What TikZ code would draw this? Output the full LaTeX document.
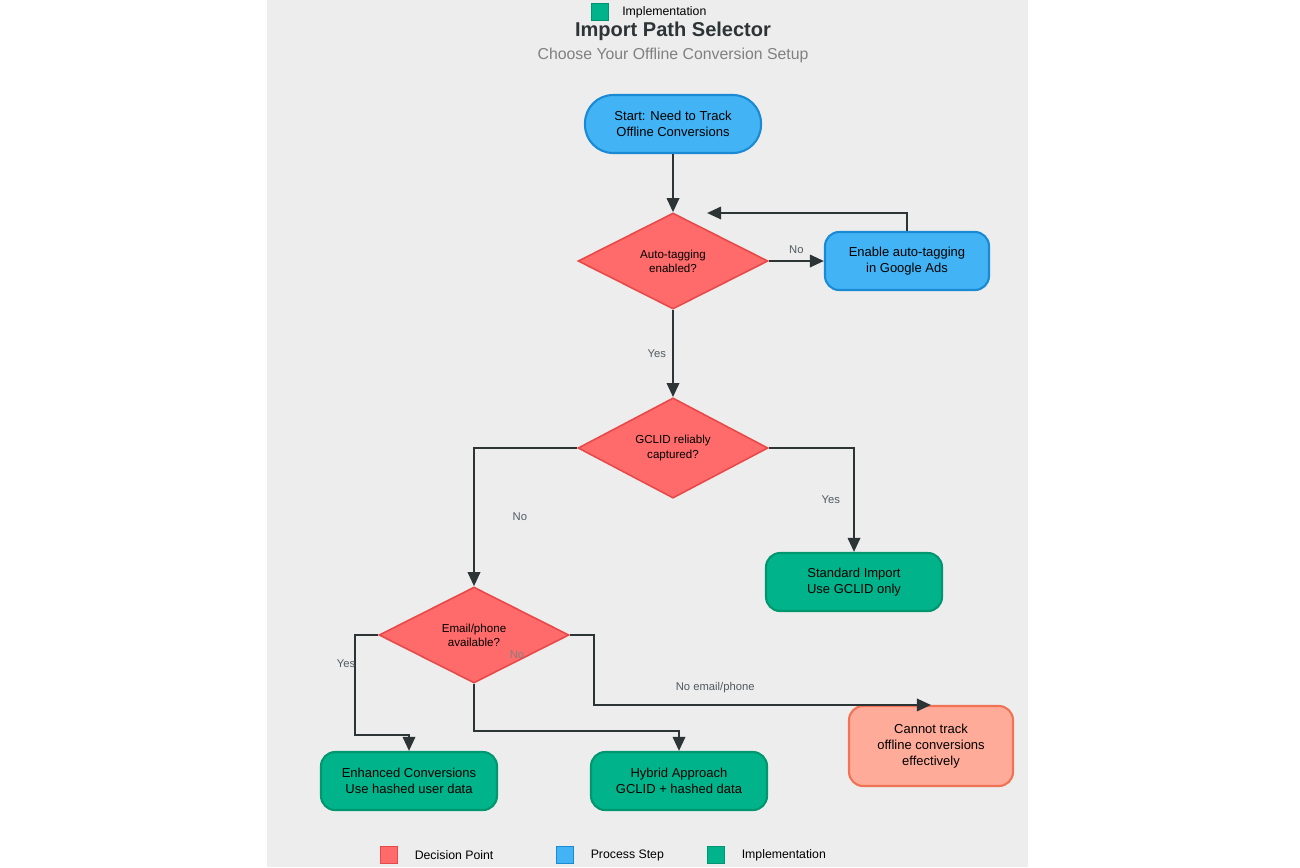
\documentclass[tikz,border=0pt]{standalone}
\usepackage{fontspec}
\setmainfont{Liberation Sans}
\usetikzlibrary{arrows.meta,positioning,shapes.geometric}
\definecolor{bgpanel}{HTML}{EDEDED}
\definecolor{decfill}{HTML}{FF6B6B}
\definecolor{decline}{HTML}{E84848}
\definecolor{procfill}{HTML}{42B4F5}
\definecolor{procline}{HTML}{1A8AD4}
\definecolor{implfill}{HTML}{00B38A}
\definecolor{implline}{HTML}{00966F}
\definecolor{endfill}{HTML}{FFAB99}
\definecolor{endline}{HTML}{F07356}
\definecolor{edgecol}{HTML}{2D3436}
\definecolor{lblcol}{HTML}{505A5F}

\begin{document}
\begin{tikzpicture}[x=0.02cm,y=-0.02cm,>={Triangle[length=8pt,width=7pt]},
    flow/.style={->,draw=edgecol,line width=1.4pt},
    decision/.style={diamond,fill=decfill,draw=decline,line width=0.9pt,inner sep=0pt,minimum width=3.8cm,minimum height=1.92cm,font=\fontsize{6.6}{8}\selectfont,align=center},
    process/.style={rounded corners=8pt,fill=procfill,draw=procline,line width=1.2pt,minimum width=3.28cm,minimum height=1.16cm,font=\fontsize{7.4}{9}\selectfont,align=center},
    impl/.style={rounded corners=8pt,fill=implfill,draw=implline,line width=1.2pt,minimum width=3.52cm,minimum height=1.16cm,font=\fontsize{7.4}{9}\selectfont,align=center},
    lbl/.style={text=lblcol,font=\fontsize{6.4}{8}\selectfont},
    legbox/.style={minimum size=0.34cm,inner sep=0pt,line width=0.6pt}]
%
   \fill[white] (0,0) rectangle (1300,867);
   \fill[bgpanel] (267,0) rectangle (1028,867);
   \node[legbox,fill=implfill,draw=implline] (topkey) at (600,12) {};
   \node[right=4pt of topkey,font=\fontsize{7}{8}\selectfont] (topkeytxt) {Implementation};
   \node[font=\bfseries\fontsize{11.4}{13}\selectfont,text=edgecol] (title) at (673,31) {Import Path Selector};
   \node[font=\fontsize{9}{11}\selectfont,text=gray] (subtitle) at (673,55) {Choose Your Offline Conversion Setup};
%
   \node[process,rounded corners=16pt,minimum width=3.52cm] (start) at (673,124) {Start: Need to Track\\Offline Conversions};
   \node[decision] (autotag) at (673,261) {Auto-tagging\\enabled?};
   \node[process] (enable) at (907,261) {Enable auto-tagging\\in Google Ads};
   \node[decision] (gclid) at (673,448) {GCLID reliably\\captured?};
   \node[impl] (standard) at (854,582) {Standard Import\\Use GCLID only};
   \node[decision] (email) at (474,635) {Email/phone\\available?};
   \node[impl] (enhanced) at (409,781) {Enhanced Conversions\\Use hashed user data};
   \node[impl] (hybrid) at (679,781) {Hybrid Approach\\GCLID + hashed data};
   \node[rounded corners=8pt,fill=endfill,draw=endline,line width=1.2pt,minimum width=3.28cm,minimum height=1.6cm,font=\fontsize{7.4}{9}\selectfont,align=center] (cannot) at (931,746) {Cannot track\\offline conversions\\effectively};
   \coordinate (back) at (707,213);
%
   \draw[flow] (start) -- (autotag);
   \draw[flow] (autotag) -- node[lbl,above] {No} (enable);
   \draw[flow] (enable.north) |- (back);
   \draw[flow] (autotag) -- node[lbl,left,pos=0.5] {Yes} (gclid);
   \draw[flow] (gclid.west) -| node[lbl,pos=0.75,right=18pt] {No} (email.north);
   \draw[flow] (gclid.east) -| node[lbl,pos=0.75,left=4pt] {Yes} (standard.north);
   \draw[flow] (email.west) -- ++(-23,0) node[lbl,below left=10pt and -4pt] {Yes} |- ++(0,100) -| (enhanced.north);
   \draw[flow] (email.south) -- ++(0,47) -| (hybrid.north);
   \node[lbl,text=gray] (nolbl) at (517,655) {No};
   \draw[flow] (email.east) -- ++(24,0) |- node[lbl,pos=0.68,above=3pt] {No email/phone} (cannot.north);
%
   \node[legbox,fill=decfill,draw=decline] (key1) at (389,855) {};
   \node[right=6pt of key1,font=\fontsize{7}{8}\selectfont] {Decision Point};
   \node[legbox,fill=procfill,draw=procline] (key2) at (565,855) {};
   \node[right=6pt of key2,font=\fontsize{7}{8}\selectfont] {Process Step};
   \node[legbox,fill=implfill,draw=implline] (key3) at (716,855) {};
   \node[right=6pt of key3,font=\fontsize{7}{8}\selectfont] {Implementation};
\end{tikzpicture}
\end{document}
